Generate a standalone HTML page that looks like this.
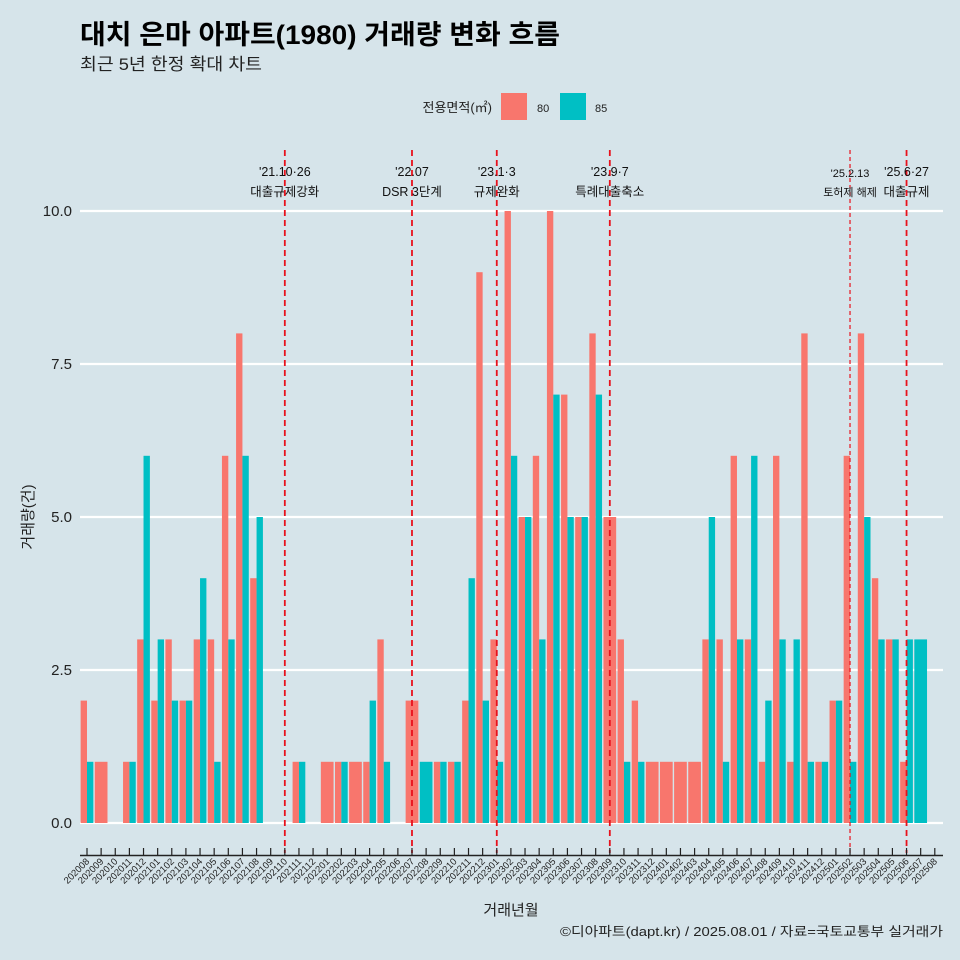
<!DOCTYPE html>
<html><head><meta charset="utf-8"><style>
body{margin:0;background:#d6e4ea;}
svg{display:block;font-family:"Liberation Sans","Noto Sans CJK KR",sans-serif;}
</style></head><body>
<svg id="chart" width="960" height="960" viewBox="0 0 960 960">
<rect width="960" height="960" fill="#d6e4ea"/>
<text x="80" y="44" font-size="27" font-weight="bold" fill="#000" textLength="480" lengthAdjust="spacingAndGlyphs">대치 은마 아파트(1980) 거래량 변화 흐름</text>
<text x="80" y="70" font-size="17" fill="#222" textLength="182" lengthAdjust="spacingAndGlyphs">최근 5년 한정 확대 차트</text>
<g>
<text x="492" y="112" font-size="13" text-anchor="end" fill="#222">전용면적(㎡)</text>
<rect x="501" y="93" width="26" height="27" fill="#f8766d"/>
<text x="537" y="112" font-size="11" fill="#222">80</text>
<rect x="560" y="93" width="26" height="27" fill="#00bfc4"/>
<text x="595" y="112" font-size="11" fill="#222">85</text>
</g>
<g id="grid"></g><g id="bars"></g><g id="events"></g><g id="axes"></g>
<text x="511" y="915" font-size="15" text-anchor="middle" fill="#222">거래년월</text>
<text transform="translate(33,517) rotate(-90)" font-size="15" text-anchor="middle" fill="#222">거래량(건)</text>
<text x="560" y="936" font-size="13" fill="#222" textLength="383" lengthAdjust="spacingAndGlyphs">©디아파트(dapt.kr) / 2025.08.01 / 자료=국토교통부 실거래가</text>
</svg>
<script>
const months=["202008","202009","202010","202011","202012","202101","202102","202103","202104","202105","202106","202107","202108","202109","202110","202111","202112","202201","202202","202203","202204","202205","202206","202207","202208","202209","202210","202211","202212","202301","202302","202303","202304","202305","202306","202307","202308","202309","202310","202311","202312","202401","202402","202403","202404","202405","202406","202407","202408","202409","202410","202411","202412","202501","202502","202503","202504","202505","202506","202507","202508"];
const series80=[2,1,null,1,3,2,3,2,3,3,6,8,4,null,null,1,null,1,1,1,1,3,null,2,null,1,1,2,9,3,10,5,6,10,7,5,8,5,3,2,1,1,1,1,3,3,6,3,1,6,1,8,1,2,6,8,4,3,1,null,null];
const series85=[1,null,null,1,6,3,2,2,4,1,3,6,5,null,null,1,null,null,1,null,2,1,null,null,1,1,1,4,2,1,6,5,3,7,5,5,7,null,1,1,null,null,null,null,5,1,3,6,2,3,3,1,1,2,1,5,3,3,3,3,null];
const yTicks=[0,2.5,5,7.5,10];
const yTickLabels=["0.0","2.5","5.0","7.5","10.0"];
const eventMonths=["202110","202207","202301","202309","202502","202506"];
const eventDates=["'21.10·26","'22.07","'23.1·3","'23.9·7","'25.2.13","'25.6·27"];
const eventLabels=["대출규제강화","DSR 3단계","규제완화","특례대출축소","토허제 해제","대출규제"];

const NS="http://www.w3.org/2000/svg";
const X0=87,STEP=14.13,Y0=823,YS=61.2,PL=80,PR=943;
const xs=i=>X0+STEP*i, ys=v=>Y0-v*YS;
function mk(t,a,p){const e=document.createElementNS(NS,t);for(const k in a)e.setAttribute(k,a[k]);p.appendChild(e);return e;}
const grid=document.getElementById('grid'),bars=document.getElementById('bars'),ev=document.getElementById('events'),ax=document.getElementById('axes');
yTicks.forEach((v,i)=>{
 const l=mk('line',{x1:PL,x2:PR,y1:ys(v),y2:ys(v),stroke:'#fff','stroke-width':2.2},grid);
 
 
 const t=mk('text',{x:72,y:ys(v)+5,'font-size':15,'text-anchor':'end',fill:'#222'},ax);
 t.textContent=yTickLabels[i];
 
 
});
const W=STEP*0.9;
months.forEach((m,i)=>{
 const a=series80[i],b=series85[i],cx=xs(i);
 if(a!=null){const w=b!=null?W/2:W;const x=cx-W/2;
  const r=mk('rect',{x:x,y:ys(a),width:w,height:a*YS,fill:'#f8766d'},bars);
  
  }
 if(b!=null){const w=a!=null?W/2:W;const x=a!=null?cx:cx-W/2;
  const r=mk('rect',{x:x,y:ys(b),width:w,height:b*YS,fill:'#00bfc4'},bars);
  
  }
 const tk=mk('line',{x1:cx,x2:cx,y1:848,y2:855,stroke:'#222','stroke-width':1.2},ax);
 
 
 const t=mk('text',{x:cx+3,y:862,'font-size':9.5,'text-anchor':'end',fill:'#222',transform:`rotate(-45 ${cx+3} 862)`},ax);
 t.textContent=m;
 
 
});
const axl=mk('line',{x1:PL,x2:PR,y1:855.5,y2:855.5,stroke:'#222','stroke-width':1.5},ax);


eventMonths.forEach((m,i)=>{
 const x=xs(months.indexOf(m));const thin=i===4;
 const l=mk('line',{x1:x,x2:x,y1:150,y2:853,stroke:'#e8111c','stroke-width':thin?1.2:1.8,'stroke-dasharray':thin?'4,3':'6,4'},ev);
 
 
 const fs=thin?11:12.5;
 const t1=mk('text',{x:x,y:thin?177:176,'font-size':fs,'text-anchor':'middle',fill:'#111'},ev);
 t1.textContent=eventDates[i];
 
 
 const t2=mk('text',{x:x,y:196,'font-size':fs,'text-anchor':'middle',fill:'#111'},ev);
 t2.textContent=eventLabels[i];
 
 
});
</script>
</body></html>
